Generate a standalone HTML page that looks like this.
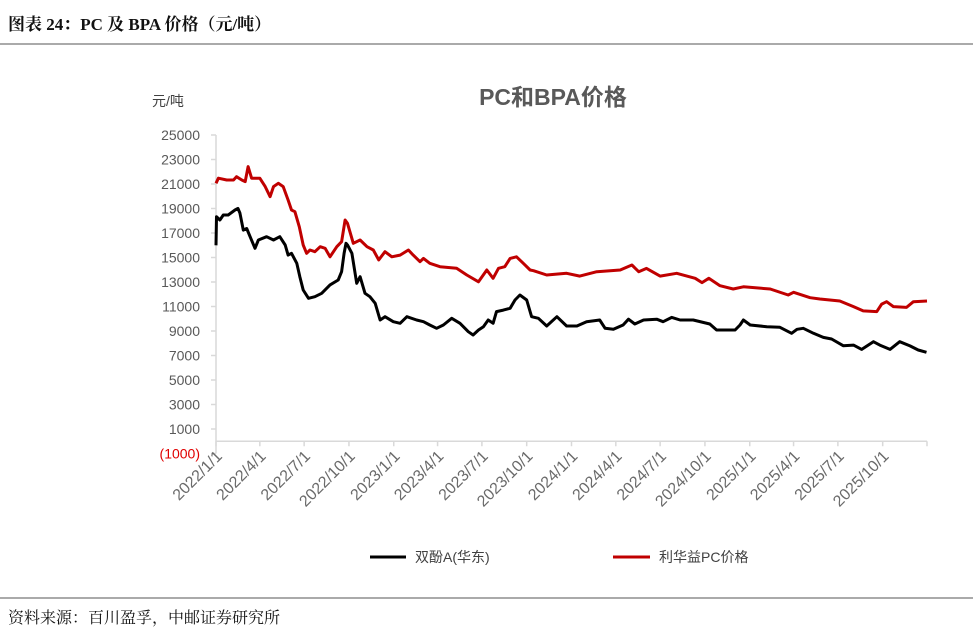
<!DOCTYPE html>
<html><head><meta charset="utf-8">
<style>
body{margin:0;background:#fff;}
svg text{font-family:"Liberation Sans","Noto Sans CJK SC",sans-serif;}
</style></head>
<body>
<svg id="chart" width="973" height="639" xmlns="http://www.w3.org/2000/svg">
<text x="8" y="30" font-size="17" font-weight="bold" fill="#111" style="font-family:'Liberation Serif','Noto Serif CJK SC',serif">图表 24：PC 及 BPA 价格（元/吨）</text>
<line x1="0" y1="44" x2="973" y2="44" stroke="#555" stroke-width="1"/>
<text x="553" y="105" font-size="23" font-weight="bold" fill="#595959" text-anchor="middle">PC和BPA价格</text>
<text x="152" y="106" font-size="14" fill="#404040">元/吨</text>
<g id="axes"></g>
<g id="series"></g>
<g>
<line x1="370" y1="557" x2="406" y2="557" stroke="#000" stroke-width="3"/>
<text x="415" y="562" font-size="14" fill="#404040">双酚A(华东)</text>
<line x1="613" y1="557" x2="650" y2="557" stroke="#c00000" stroke-width="3"/>
<text x="659" y="562" font-size="14" fill="#404040">利华益PC价格</text>
</g>
<line x1="0" y1="598" x2="973" y2="598" stroke="#555" stroke-width="1"/>
<text x="8" y="623" font-size="16" fill="#111" style="font-family:'Liberation Serif','Noto Serif CJK SC',serif">资料来源：百川盈孚，中邮证券研究所</text>
</svg>
<script>
const yTicks=[25000,23000,21000,19000,17000,15000,13000,11000,9000,7000,5000,3000,1000,-1000];
const yTickLabels=["25000","23000","21000","19000","17000","15000","13000","11000","9000","7000","5000","3000","1000","(1000)"];
const xTickDays=[0,90,181,273,365,455,546,638,730,821,912,1004,1096,1186,1277,1369];
const xTickLabels=["2022/1/1","2022/4/1","2022/7/1","2022/10/1","2023/1/1","2023/4/1","2023/7/1","2023/10/1","2024/1/1","2024/4/1","2024/7/1","2024/10/1","2025/1/1","2025/4/1","2025/7/1","2025/10/1"];
const bpaDays=[0,1,8,15,25,39,45,49,56,63,70,80,87,104,118,131,142,148,155,166,172,179,190,203,217,234,251,258,263,267,270,279,289,296,306,316,327,337,347,364,378,392,412,426,439,453,467,484,501,518,528,539,549,559,569,576,590,604,614,624,638,648,662,679,700,720,741,761,788,799,816,836,847,860,878,905,918,936,953,980,1014,1028,1066,1076,1083,1097,1131,1158,1182,1193,1206,1227,1247,1264,1288,1309,1326,1350,1363,1384,1404,1425,1442,1459];
const bpaValues=[16000,18330,18060,18470,18470,18880,19010,18630,17240,17370,16700,15750,16430,16700,16430,16700,16020,15200,15340,14530,13440,12350,11670,11800,12080,12760,13160,13840,15340,16160,16020,15340,12890,13430,12080,11800,11260,9900,10170,9760,9630,10170,9900,9760,9490,9220,9490,10040,9630,8940,8670,9080,9350,9900,9630,10580,10710,10850,11530,11940,11530,10170,10040,9410,10170,9410,9410,9760,9900,9220,9140,9490,9960,9570,9900,9960,9760,10110,9900,9900,9570,9080,9080,9490,9900,9490,9350,9300,8810,9140,9220,8810,8480,8350,7800,7850,7500,8130,7850,7500,8130,7780,7450,7260];
const pcDays=[0,5,22,36,42,53,60,66,73,90,101,111,118,128,138,148,155,162,171,179,186,193,203,214,224,234,248,258,265,270,282,296,310,323,334,347,361,378,395,405,419,426,439,460,494,515,539,556,569,580,593,604,617,631,645,652,679,720,747,782,830,854,868,884,912,946,984,998,1012,1035,1062,1083,1138,1175,1186,1220,1240,1281,1309,1329,1357,1367,1377,1391,1418,1432,1460];
const pcValues=[21060,21470,21330,21330,21600,21330,21200,22420,21470,21470,20790,19960,20790,21060,20790,19690,18880,18740,17510,16020,15340,15610,15470,15880,15750,15060,15880,16290,18060,17780,16160,16430,15880,15610,14800,15470,15060,15200,15610,15200,14660,14930,14530,14250,14120,13570,13020,13980,13300,14120,14250,14930,15060,14530,13980,13920,13570,13710,13480,13840,13980,14390,13840,14110,13480,13710,13300,12950,13300,12700,12430,12610,12430,11940,12160,11720,11610,11450,10990,10640,10580,11200,11390,10990,10930,11390,11450];

const NS="http://www.w3.org/2000/svg";
const X0=216,X1=927,DAYS=1460,YTOP=135,YPX=294/24000;
function xs(d){return X0+d*(X1-X0)/DAYS;}
function ys(v){return YTOP+(25000-v)*YPX;}
function mk(tag,attrs,parent){const e=document.createElementNS(NS,tag);for(const k in attrs)e.setAttribute(k,attrs[k]);parent.appendChild(e);return e;}
const axes=document.getElementById('axes');
let e=mk('line',{x1:X0,y1:ys(25000),x2:X0,y2:ys(-1000),stroke:'#d9d9d9','stroke-width':1.5},axes);


e=mk('line',{x1:X0,y1:ys(0),x2:X1,y2:ys(0),stroke:'#d9d9d9','stroke-width':1.5},axes);


yTicks.forEach((v,i)=>{
  const t=mk('line',{x1:X0-5,y1:ys(v),x2:X0,y2:ys(v),stroke:'#d9d9d9','stroke-width':1.5},axes);
  
  
  const l=mk('text',{x:X0-16,y:ys(v)+5,'font-size':14,fill:v<0?'#e00000':'#595959','text-anchor':'end'},axes);
  l.textContent=yTickLabels[i];
  
  
});
xTickDays.concat([DAYS]).forEach((d)=>{
  const t=mk('line',{x1:xs(d),y1:ys(0),x2:xs(d),y2:ys(0)+5,stroke:'#d9d9d9','stroke-width':1.5},axes);
  
  
});
xTickDays.forEach((d,i)=>{
  const x=xs(d)+7,y=ys(0)+16;
  const l=mk('text',{x:x,y:y,'font-size':16,fill:'#6a6a6a','text-anchor':'end',transform:`rotate(-45 ${x} ${y})`},axes);
  l.textContent=xTickLabels[i];
  
  
});
const ser=document.getElementById('series');
function line(days,vals,color,name){
  const p=mk('polyline',{points:days.map((d,i)=>xs(d).toFixed(1)+','+ys(vals[i]).toFixed(1)).join(' '),fill:'none',stroke:color,'stroke-width':3,'stroke-linejoin':'round'},ser);
  
  
}
line(pcDays,pcValues,'#c00000','pc-price-line');
line(bpaDays,bpaValues,'#000000','bpa-price-line');
</script>
</body></html>
